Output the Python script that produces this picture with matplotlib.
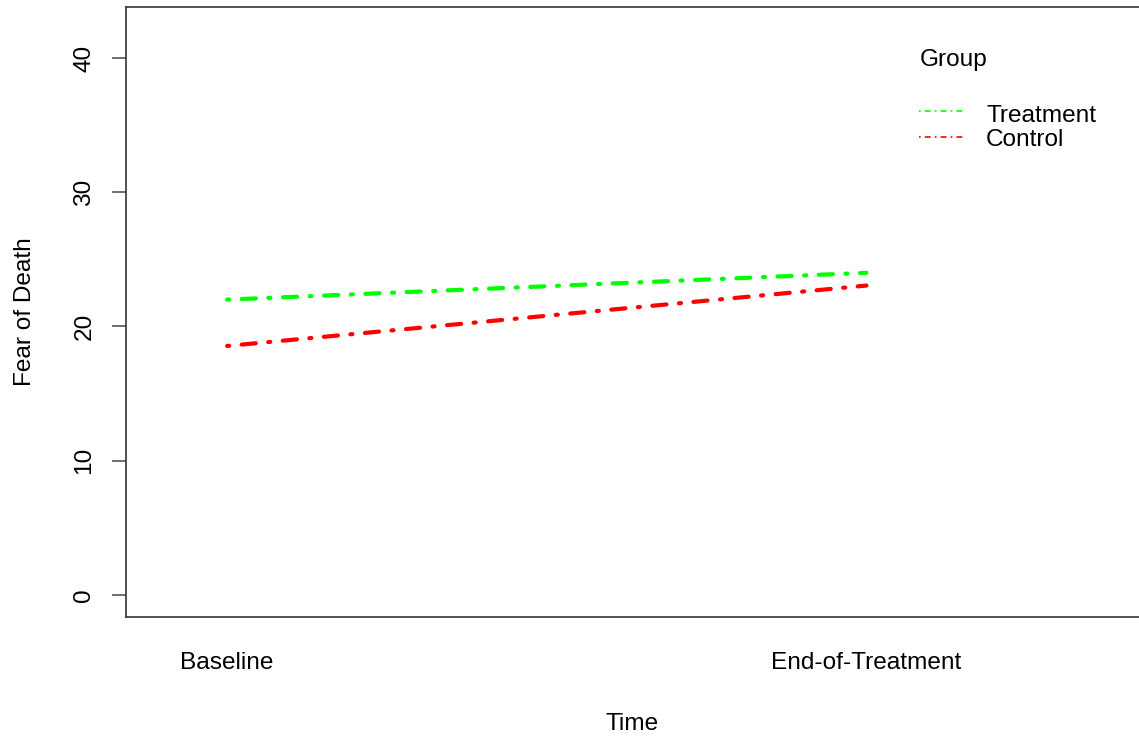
import numpy as np
import matplotlib.pyplot as plt

plt.rcParams['font.family'] = ['Liberation Sans', 'DejaVu Sans']

# Mean fear-of-death score per group at each time point
times = ['Baseline', 'End-of-Treatment']
groups = ['Treatment', 'Control']
treatment = [22.0, 24.0]
control = [18.55, 23.05]
colors = ['#00ff00', '#ff0000']

fs = 17.6

fig = plt.figure(figsize=(11.39, 7.38), dpi=100)
ax = fig.add_axes([0.1106, 0.164, 0.8894, 0.8265])

x = np.arange(1, len(times) + 1)
for vals, col in zip([treatment, control], colors):
    ax.plot(x, vals, color=col, lw=3, dashes=(0.5, 3, 3.4, 3),
            dash_capstyle='round')

ax.set_xlim(0.8417, 2.4263)
ax.set_ylim(-1.64, 43.8)

ax.set_xticks(x)
ax.set_xticklabels(times, fontsize=fs)
ax.tick_params(axis='x', length=0, pad=25)
ax.set_yticks([0, 10, 20, 30, 40])
ax.set_yticklabels(['0', '10', '20', '30', '40'], rotation=90, va='center',
                   fontsize=fs)
ax.tick_params(axis='y', length=10, width=1.2, color='#555555', pad=12)

for side in ['left', 'top', 'bottom']:
    ax.spines[side].set_color('#333333')
    ax.spines[side].set_linewidth(1.2)
ax.spines['right'].set_visible(False)

ax.set_xlabel('Time', fontsize=fs, labelpad=28)
ax.set_ylabel('Fear of Death', fontsize=fs, labelpad=27)

# legend drawn by hand, R style
ax.text(0.7838, 0.9033, 'Group', transform=ax.transAxes, fontsize=fs,
        va='baseline')
for i, (name, col) in enumerate(zip(groups, colors)):
    ly = 0.8295 - i * 0.0426
    ax.plot([0.7828, 0.8263], [ly, ly], transform=ax.transAxes, color=col,
            lw=1.2, dashes=(1, 2.5, 3.5, 2.5))
    ax.text(0.849, 0.8115 - i * 0.0394, name, transform=ax.transAxes,
            fontsize=fs, va='baseline')

fig.savefig('out.png', dpi=100)
